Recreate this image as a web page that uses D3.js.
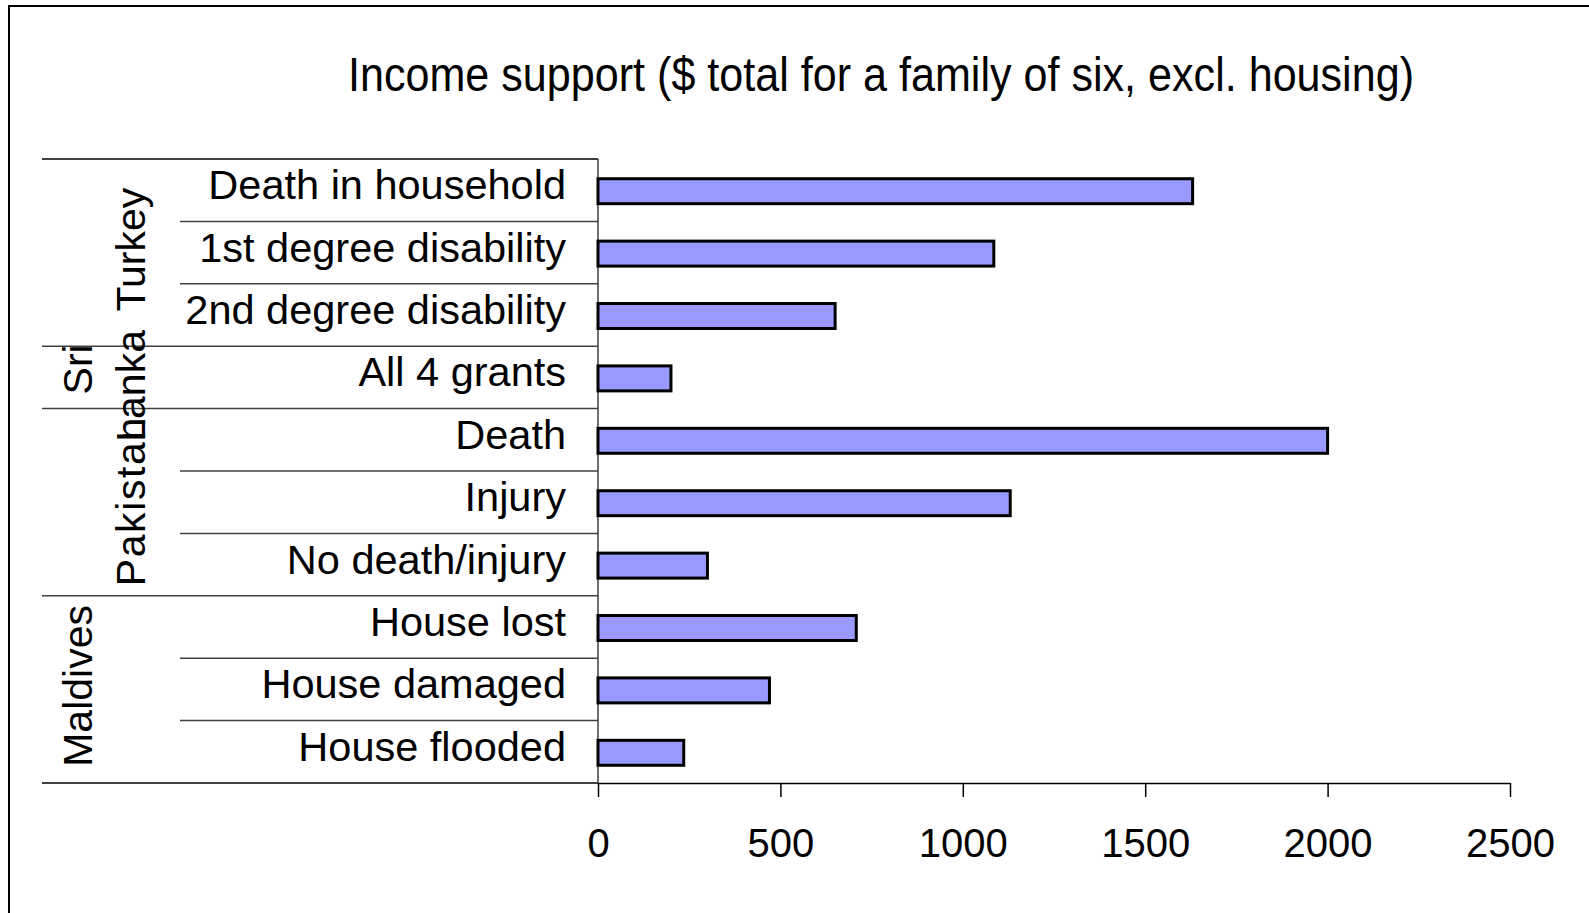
<!DOCTYPE html>
<html>
<head>
<meta charset="utf-8">
<script src="https://cdn.jsdelivr.net/npm/d3@7"></script>
<style>
  html, body { margin: 0; padding: 0; background: #fff; }
  svg { display: block; font-family: "Liberation Sans", Arial, sans-serif; }
</style>
</head>
<body>
<svg id="chart" width="1589" height="913"></svg>
<script>
// ---- data ----
const title = "Income support ($ total for a family of six, excl. housing)";
const categories = [
  "Death in household", "1st degree disability", "2nd degree disability",
  "All 4 grants",
  "Death", "Injury", "No death/injury",
  "House lost", "House damaged", "House flooded"
];
const values = [1630, 1085, 650, 200, 2000, 1130, 300, 708, 470, 235];
const groupNames = ["Turkey", "Sri Lanka", "Pakistan", "Maldives"];
const groupSizes = [3, 1, 3, 3];
const xTicks = [0, 500, 1000, 1500, 2000, 2500];

// ---- layout ----
const svg = d3.select("#chart");
const W = 1589, H = 913;
const plotLeft = 598, plotRight = 1510, plotTop = 159, plotBottom = 783;
const tableLeft = 42, catLineLeft = 180;

const x = d3.scaleLinear().domain([0, 2500]).range([plotLeft, plotRight]);
const y = d3.scaleBand().domain(categories).range([plotTop, plotBottom]).padding(0);
const step = y.step();
const barH = step * 0.40;

// outer frame (left + top)
svg.append("path")
  .attr("d", `M9,${H} L9,6 L${W},6`)
  .attr("fill", "none").attr("stroke", "#000").attr("stroke-width", 2);

// title
svg.append("text")
  .attr("x", 348).attr("y", 91)
  .attr("font-size", 48)
  .attr("textLength", 1066).attr("lengthAdjust", "spacingAndGlyphs")
  .attr("fill", "#000")
  .text(title);

// group boundaries (index of first category in each group)
const groupStarts = [];
let acc = 0;
groupSizes.forEach(s => { groupStarts.push(acc); acc += s; });

// category separators
const sepG = svg.append("g");
categories.forEach((c, i) => {
  if (i === 0) return;
  const isGroup = groupStarts.includes(i);
  sepG.append("line")
    .attr("x1", isGroup ? tableLeft : catLineLeft).attr("x2", plotLeft)
    .attr("y1", y(c)).attr("y2", y(c))
    .attr("stroke", "#404040").attr("stroke-width", 1.5);
});
sepG.append("line")
  .attr("x1", tableLeft).attr("x2", plotLeft)
  .attr("y1", plotTop).attr("y2", plotTop)
  .attr("stroke", "#000").attr("stroke-width", 1.5);
sepG.append("line")
  .attr("x1", tableLeft).attr("x2", plotLeft)
  .attr("y1", plotBottom).attr("y2", plotBottom)
  .attr("stroke", "#000").attr("stroke-width", 1.5);

// y axis line
svg.append("line")
  .attr("x1", plotLeft).attr("x2", plotLeft)
  .attr("y1", plotTop).attr("y2", plotBottom)
  .attr("stroke", "#404040").attr("stroke-width", 1.5);

// x axis
const xAxis = d3.axisBottom(x).tickValues(xTicks).tickFormat(d3.format("d"))
  .tickSize(14).tickSizeOuter(0).tickPadding(0);
const gx = svg.append("g").attr("transform", `translate(0,${plotBottom})`).call(xAxis);
gx.select(".domain").attr("stroke", "#000").attr("stroke-width", 1.5);
gx.selectAll(".tick line").attr("stroke", "#000").attr("stroke-width", 1.5);
gx.selectAll(".tick text")
  .attr("y", 74).attr("dy", null)
  .attr("font-size", 40)
  .attr("font-family", "Liberation Sans, Arial, sans-serif")
  .attr("fill", "#000");

// category labels
svg.append("g").selectAll("text")
  .data(categories)
  .join("text")
  .attr("x", 566)
  .attr("y", d => y(d) + step / 2 + 9)
  .attr("text-anchor", "end")
  .attr("font-size", 41.5)
  .attr("fill", "#000")
  .text(d => d);

// group labels (rotated)
const colX = [92, 145];
const groupLabelLayout = {
  "Turkey":    [{ t: "Turkey", col: 1, dy: -3, ls: 0 }],
  "Sri Lanka": [{ t: "Sri", col: 0, dy: -8, ls: 0 }, { t: "Lanka", col: 1, dy: 8.5, ls: 0 }],
  "Pakistan":  [{ t: "Pakistan", col: 1, dy: -1, ls: 1.6 }],
  "Maldives":  [{ t: "Maldives", col: 0, dy: -3.5, ls: 0 }]
};
const gl = svg.append("g");
groupNames.forEach((g, gi) => {
  const first = categories[groupStarts[gi]];
  const last = categories[groupStarts[gi] + groupSizes[gi] - 1];
  const cy = (y(first) + y(last) + step) / 2;
  groupLabelLayout[g].forEach(p => {
    gl.append("text")
      .attr("transform", `translate(${colX[p.col]},${cy + p.dy}) rotate(-90)`)
      .attr("text-anchor", "middle")
      .attr("font-size", 41)
      .attr("letter-spacing", p.ls)
      .attr("fill", "#000")
      .text(p.t);
  });
});

// bars
svg.append("g").selectAll("rect")
  .data(categories.map((c, i) => ({ c, v: values[i] })))
  .join("rect")
  .attr("x", x(0))
  .attr("y", d => y(d.c) + step / 2 - barH / 2 + 1)
  .attr("width", d => x(d.v) - x(0))
  .attr("height", barH)
  .attr("fill", "#9999ff")
  .attr("stroke", "#000")
  .attr("stroke-width", 3);
</script>
</body>
</html>
